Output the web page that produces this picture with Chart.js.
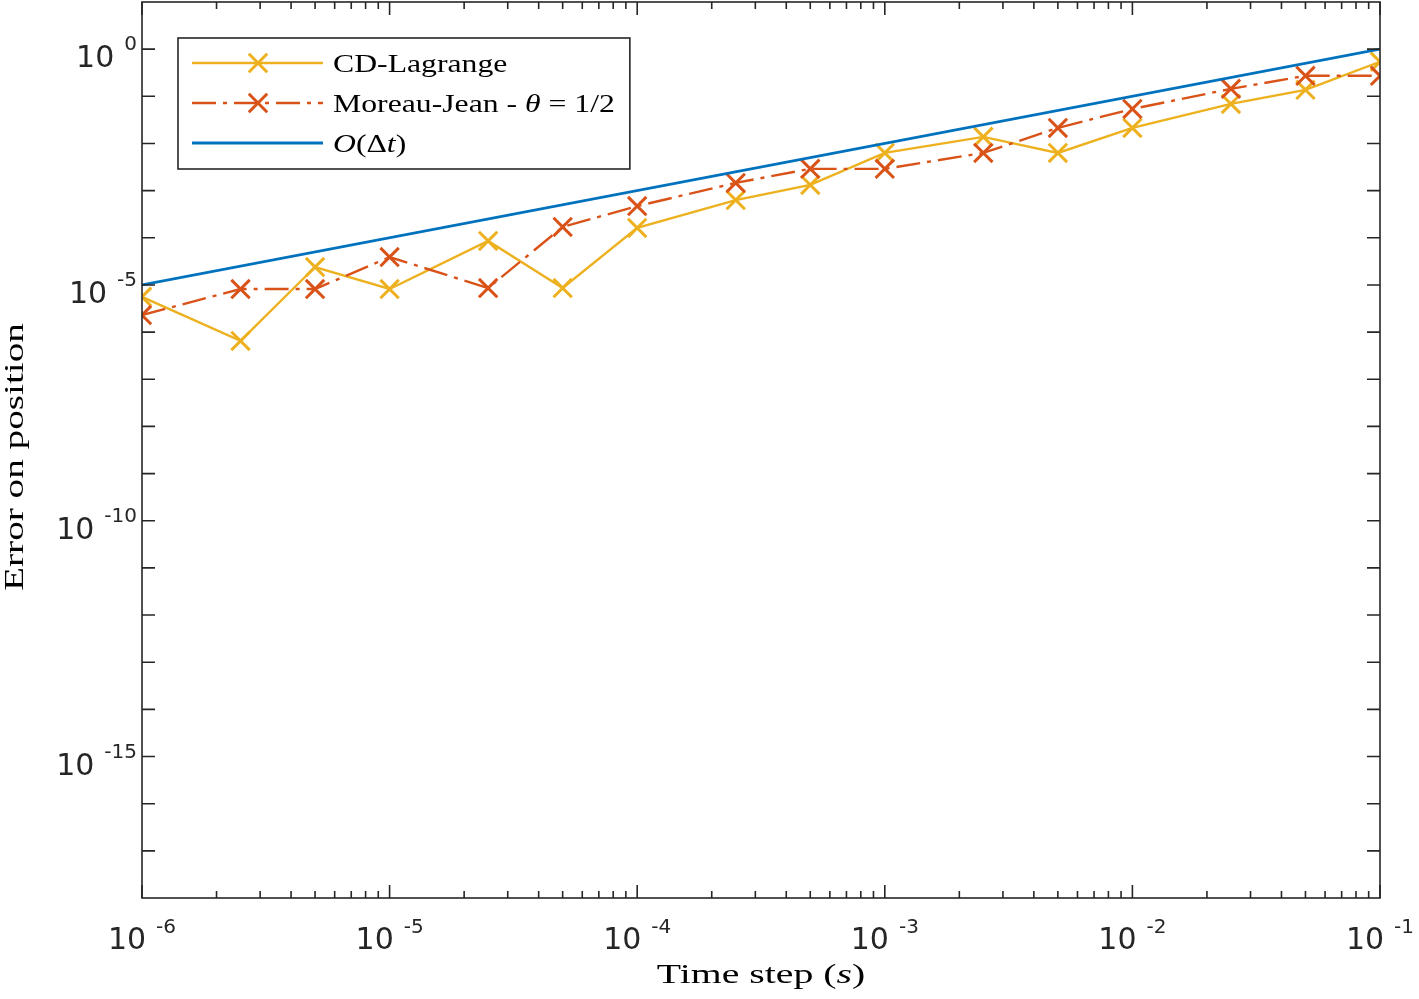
<!DOCTYPE html>
<html><head><meta charset="utf-8">
<script src="https://cdn.jsdelivr.net/npm/chart.js@4.4.1/dist/chart.umd.min.js"></script>
<style>html,body{margin:0;padding:0;background:#fff;} #wrap{width:1419px;height:999px;}</style>
</head><body><div id="wrap"><canvas id="c" width="1419" height="999"></canvas></div>
<script>
// ---- data ----
const timeSteps = [1e-6, 2.5e-6, 5e-6, 1e-5, 2.5e-5, 5e-5, 1e-4, 2.5e-4, 5e-4, 1e-3, 2.5e-3, 5e-3, 1e-2, 2.5e-2, 5e-2, 1e-1];
const cdLagrangeError = [5.6e-6, 6.5e-7, 2.4e-5, 8.2e-6, 8.6e-5, 8.6e-6, 1.62e-4, 6.3e-4, 1.32e-3, 6.3e-3, 1.38e-2, 6.3e-3, 2.14e-2, 6.9e-2, 0.137, 0.54];
const moreauJeanError = [2.3e-6, 8.2e-6, 8.2e-6, 3.9e-5, 8.6e-6, 1.7e-4, 4.7e-4, 1.46e-3, 2.9e-3, 2.9e-3, 6.3e-3, 2.14e-2, 5.4e-2, 0.144, 0.272, 0.272];
const orderRefX = [1e-6, 1e-1];
const orderRefY = [1e-5, 1e0];
const xTickExponents = [-6, -5, -4, -3, -2, -1];
const yTickExponents = [0, -5, -10, -15];
const xAxisTitle = [{t:'Time step '}, {t:'('}, {t:'s', i:true}, {t:')'}];
const yAxisTitle = [{t:'Error on position'}];
const legendLabels = [
  [{t:'CD-Lagrange'}],
  [{t:'Moreau-Jean - '}, {t:'θ', i:true}, {t:' = 1/2'}],
  [{t:'O', i:true}, {t:'(Δ'}, {t:'t', i:true}, {t:')'}]
];

const pairs = (xs, ys) => xs.map((x, k) => ({x: x, y: ys[k]}));

const AXIS_COLOR = '#262626';
const SERIF = '"Liberation Serif", "DejaVu Serif", serif';
const SANS = '"DejaVu Sans", sans-serif';

function drawRich(ctx, segs, x, y, size, sx, align) {
  ctx.save();
  ctx.translate(x, y);
  ctx.scale(sx, 1);
  let w = 0;
  segs.forEach(s => { ctx.font = (s.i ? 'italic ' : '') + size + 'px ' + SERIF; w += ctx.measureText(s.t).width; });
  let cx = align === 'center' ? -w / 2 : 0;
  ctx.textBaseline = 'alphabetic';
  ctx.textAlign = 'left';
  segs.forEach(s => { ctx.font = (s.i ? 'italic ' : '') + size + 'px ' + SERIF; ctx.fillText(s.t, cx, 0); cx += ctx.measureText(s.t).width; });
  ctx.restore();
  return w * sx;
}
function richWidth(ctx, segs, size, sx) {
  let w = 0;
  segs.forEach(s => { ctx.font = (s.i ? 'italic ' : '') + size + 'px ' + SERIF; w += ctx.measureText(s.t).width; });
  return w * sx;
}
function drawX(ctx, x, y, r, color, lw) {
  const o = r * Math.SQRT1_2;
  ctx.save(); ctx.strokeStyle = color; ctx.lineWidth = lw; ctx.setLineDash([]);
  ctx.beginPath(); ctx.moveTo(x - o, y - o); ctx.lineTo(x + o, y + o);
  ctx.moveTo(x + o, y - o); ctx.lineTo(x - o, y + o); ctx.stroke(); ctx.restore();
}

const axesPlugin = {
  id: 'matlabAxes',
  afterDatasetsDraw(chart) {
    const ctx = chart.ctx, a = chart.chartArea, xs = chart.scales.x, ys = chart.scales.y;
    ctx.save();
    ctx.strokeStyle = AXIS_COLOR; ctx.fillStyle = AXIS_COLOR; ctx.lineWidth = 1.6; ctx.setLineDash([]);
    ctx.strokeRect(a.left, a.top, a.right - a.left, a.bottom - a.top);
    // x ticks (major + minor), bottom and top
    ctx.beginPath();
    for (let e = -6; e <= -1; e++) {
      for (let m = 1; m <= 9; m++) {
        const v = m * Math.pow(10, e);
        if (v < xs.min * 0.999 || v > xs.max * 1.001) continue;
        const px = xs.getPixelForValue(v);
        const len = m === 1 ? 13 : 7;
        ctx.moveTo(px, a.bottom); ctx.lineTo(px, a.bottom - len);
        ctx.moveTo(px, a.top); ctx.lineTo(px, a.top + len);
      }
    }
    // y ticks (every decade), left and right
    for (let e = -18; e <= 1; e++) {
      const v = Math.pow(10, e);
      const py = ys.getPixelForValue(v);
      if (py < a.top + 1 || py > a.bottom - 1) continue;
      ctx.moveTo(a.left, py); ctx.lineTo(a.left + 13, py);
      ctx.moveTo(a.right, py); ctx.lineTo(a.right - 13, py);
    }
    ctx.stroke();
    // x tick labels
    const baseSize = 30, expSize = 20, gap = 10;
    xTickExponents.forEach(e => {
      const px = xs.getPixelForValue(Math.pow(10, e));
      ctx.font = baseSize + 'px ' + SANS; const wb = ctx.measureText('10').width;
      ctx.font = expSize + 'px ' + SANS; const we = ctx.measureText(String(e)).width;
      const left = px - (wb + gap + we) / 2;
      ctx.textAlign = 'left'; ctx.textBaseline = 'alphabetic';
      ctx.font = baseSize + 'px ' + SANS; ctx.fillText('10', left, a.bottom + 51);
      ctx.font = expSize + 'px ' + SANS; ctx.fillText(String(e), left + wb + gap, a.bottom + 35);
    });
    // y tick labels
    yTickExponents.forEach(e => {
      const py = ys.getPixelForValue(Math.pow(10, e));
      ctx.font = expSize + 'px ' + SANS; const we = ctx.measureText(String(e)).width;
      const right = a.left - 5;
      ctx.textAlign = 'left'; ctx.textBaseline = 'alphabetic';
      ctx.fillText(String(e), right - we, py + 1);
      ctx.font = baseSize + 'px ' + SANS; const wb = ctx.measureText('10').width;
      ctx.fillText('10', right - we - gap - wb, py + 18);
    });
    // axis titles
    ctx.fillStyle = '#000';
    drawRich(ctx, xAxisTitle, (a.left + a.right) / 2, 983, 28, 1.42, 'center');
    ctx.save();
    ctx.translate(23, (a.top + a.bottom) / 2 + 7);
    ctx.rotate(-Math.PI / 2);
    drawRich(ctx, yAxisTitle, 0, 0, 28, 1.40, 'center');
    ctx.restore();
    // legend
    const ds = chart.data.datasets;
    const lx = a.left + 36, ly = a.top + 36;
    const textX = lx + 155, size = 26, sx = 1.22;
    let maxW = 0;
    legendLabels.forEach(l => { maxW = Math.max(maxW, richWidth(ctx, l, size, sx)); });
    const bw = textX - lx + maxW + 15, bh = 131;
    ctx.fillStyle = '#fff'; ctx.fillRect(lx, ly, bw, bh);
    ctx.strokeStyle = AXIS_COLOR; ctx.lineWidth = 1.6; ctx.strokeRect(lx, ly, bw, bh);
    legendLabels.forEach((l, k) => {
      const d = ds[k];
      const ry = ly + 25 + k * 40;
      ctx.save();
      ctx.strokeStyle = d.borderColor; ctx.lineWidth = d.borderWidth;
      ctx.setLineDash(d.borderDash || []);
      ctx.beginPath(); ctx.moveTo(lx + 14, ry); ctx.lineTo(lx + 145, ry); ctx.stroke();
      ctx.restore();
      if (d.pointRadius > 0) drawX(ctx, lx + 80, ry, d.pointRadius, d.pointBorderColor, d.pointBorderWidth);
      ctx.fillStyle = '#000';
      drawRich(ctx, l, textX, ry + 8.5, size, sx, 'left');
    });
    ctx.restore();
  }
};

new Chart(document.getElementById('c'), {
  type: 'line',
  data: {
    datasets: [
      { label: 'CD-Lagrange', data: pairs(timeSteps, cdLagrangeError), borderColor: '#EDB120', borderWidth: 2.4,
        pointStyle: 'crossRot', pointRadius: 13, pointBorderWidth: 3, pointBorderColor: '#EDB120', pointBackgroundColor: '#EDB120', order: 2 },
      { label: 'Moreau-Jean - θ = 1/2', data: pairs(timeSteps, moreauJeanError), borderColor: '#D95319', borderWidth: 2.4,
        borderDash: [24, 7, 4, 7], pointStyle: 'crossRot', pointRadius: 13, pointBorderWidth: 3, pointBorderColor: '#D95319', pointBackgroundColor: '#D95319', order: 1 },
      { label: 'O(Δt)', data: pairs(orderRefX, orderRefY), borderColor: '#0072BD', borderWidth: 2.8, pointRadius: 0, order: 0 }
    ]
  },
  options: {
    responsive: false, animation: false, devicePixelRatio: 1,
    layout: { autoPadding: false, padding: { left: 142, right: 39, top: 2, bottom: 101 } },
    scales: {
      x: { type: 'logarithmic', min: 1e-6, max: 1e-1, display: false },
      y: { type: 'logarithmic', min: 1e-18, max: 10, display: false }
    },
    elements: { line: { tension: 0, fill: false } },
    plugins: { legend: { display: false }, tooltip: { enabled: false } }
  },
  plugins: [axesPlugin]
});
</script>
</body></html>
